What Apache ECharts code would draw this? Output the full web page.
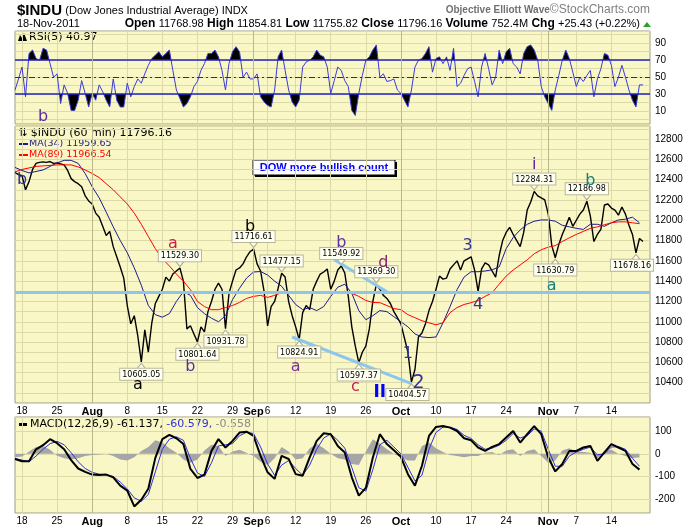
<!DOCTYPE html>
<html>
<head>
<meta charset="utf-8">
<script src="https://cdn.jsdelivr.net/npm/echarts@6/dist/echarts.min.js"></script>
<style>
html, body { margin: 0; padding: 0; background: #fff; }
#chart { width: 700px; height: 530px; }
</style>
</head>
<body>
<div id="chart"></div>
<script>
// trading days shown on the hourly chart
var tradingDays = ['Jul 15','Jul 18','Jul 19','Jul 20','Jul 21','Jul 22','Jul 25','Jul 26','Jul 27','Jul 28','Jul 29',
  'Aug 1','Aug 2','Aug 3','Aug 4','Aug 5','Aug 8','Aug 9','Aug 10','Aug 11','Aug 12','Aug 15','Aug 16','Aug 17','Aug 18','Aug 19',
  'Aug 22','Aug 23','Aug 24','Aug 25','Aug 26','Aug 29','Aug 30','Aug 31','Sep 1','Sep 2','Sep 6','Sep 7','Sep 8','Sep 9',
  'Sep 12','Sep 13','Sep 14','Sep 15','Sep 16','Sep 19','Sep 20','Sep 21','Sep 22','Sep 23','Sep 26','Sep 27','Sep 28','Sep 29','Sep 30',
  'Oct 3','Oct 4','Oct 5','Oct 6','Oct 7','Oct 10','Oct 11','Oct 12','Oct 13','Oct 14','Oct 17','Oct 18','Oct 19','Oct 20','Oct 21',
  'Oct 24','Oct 25','Oct 26','Oct 27','Oct 28','Oct 31','Nov 1','Nov 2','Nov 3','Nov 4','Nov 7','Nov 8','Nov 9','Nov 10','Nov 11',
  'Nov 14','Nov 15','Nov 16','Nov 17','Nov 18'];

var dayLabels = {'Jul 18':'18','Jul 25':'25','Aug 1':'Aug','Aug 8':'8','Aug 15':'15','Aug 22':'22','Aug 29':'29',
  'Sep 1':'Sep','Sep 6':'6','Sep 12':'12','Sep 19':'19','Sep 26':'26','Oct 3':'Oct','Oct 10':'10','Oct 17':'17',
  'Oct 24':'24','Nov 1':'Nov','Nov 7':'7','Nov 14':'14'};
var monthNames = ['Aug','Sep','Oct','Nov'];
var weekStarts = ['Jul 18','Jul 25','Aug 1','Aug 8','Aug 15','Aug 22','Aug 29','Sep 6','Sep 12','Sep 19','Sep 26',
  'Oct 3','Oct 10','Oct 17','Oct 24','Oct 31','Nov 7','Nov 14'];
var monthStarts = ['Aug 1','Sep 1','Oct 3','Nov 1'];

// $INDU, two readings per day (morning, afternoon)
var price = [
  12470,12450,12440,12300,12380,12500,12560,12570,12575,12570,
  12578,12560,12565,12555,12545,12490,12410,12380,12360,12330,
  12240,12190,12160,12070,12030,11940,11850,11890,11740,11640,
  11540,11430,11160,10980,11060,10860,10605,10920,10700,10990,
  11180,11250,11320,11440,11400,11470,11500,11529,11400,10930,
  10960,10880,10802,10950,10900,11100,11200,11320,11380,11320,
  10932,11280,11400,11510,11530,11570,11640,11690,11717,11570,
  11500,11300,10960,11150,11200,11330,11477,11440,11200,11060,
  10950,10825,11090,11160,11120,11320,11400,11470,11490,11520,
  11320,11400,11510,11550,11480,11250,10950,10760,10597,10700,
  10760,10930,11200,11369,11320,11260,11230,11180,11100,11040,
  10980,10840,10700,10405,10530,10850,10890,10980,11110,11200,
  11320,11450,11420,11430,11520,11560,11600,11510,11600,11620,
  11640,11510,11300,11520,11580,11560,11500,11440,11650,11800,
  11880,11930,11860,11800,11740,11880,12100,12180,12284,12240,
  12220,12200,12060,11750,11631,11760,11860,11940,12030,11940,
  12000,12060,12100,12187,12040,11790,11860,11910,12150,12160,
  12120,12100,12050,12130,12060,11950,11860,11678,11820,11790
];

// moving averages, one reading per day
var ma34 = [
  12520,12490,12466,12480,12495,12530,12564,12590,12590,12560,
  12460,12330,12220,12080,11935,11800,11680,11530,11360,11160,
  11070,11045,11080,11200,11296,11260,11140,11080,11035,11000,
  11060,11217,11330,11430,11490,11495,11460,11400,11350,11260,
  11170,11120,11140,11110,11150,11250,11340,11370,11280,11110,
  11020,11060,11110,11100,11050,11000,10950,10880,10850,10844,
  10850,10990,11149,11316,11440,11493,11493,11500,11512,11540,
  11720,11830,11905,11960,11990,12003,12003,11990,11950,11935,
  11920,11910,11960,11960,11940,11975,12003,12010,12030,11975
];
var ma89 = [
  12476,12500,12515,12530,12535,12540,12545,12545,12545,12525,
  12495,12460,12420,12360,12300,12230,12160,12070,11960,11840,
  11720,11620,11550,11470,11400,11316,11200,11150,11119,11119,
  11140,11160,11190,11230,11250,11260,11240,11260,11286,11295,
  11290,11286,11286,11286,11286,11286,11290,11300,11280,11250,
  11210,11190,11188,11160,11130,11119,11070,11040,11010,10990,
  10970,10990,11090,11140,11170,11188,11210,11250,11286,11370,
  11450,11510,11560,11610,11670,11709,11735,11750,11790,11827,
  11860,11890,11920,11935,11955,11975,11984,11984,11975,11966
];

// RSI(5), two readings per day
var rsi = [
  35,48,62,27,78,82,72,70,84,82,
  66,50,54,19,41,31,11,11,23,46,
  31,15,31,23,41,33,23,15,48,23,
  15,15,43,27,39,48,43,54,64,72,
  76,80,74,78,82,58,35,25,15,19,
  27,39,45,58,66,78,78,82,74,58,
  35,66,80,86,80,50,56,48,48,54,
  27,21,17,15,35,74,82,58,35,21,
  15,23,62,68,70,74,82,76,74,62,
  31,46,62,58,46,39,11,5,31,52,
  70,74,82,88,50,54,45,46,48,35,
  31,23,15,35,62,70,72,78,86,56,
  72,74,66,74,58,84,39,43,52,60,
  62,45,27,62,78,60,41,50,82,66,
  80,84,66,62,54,78,86,88,82,70,
  39,27,19,11,35,52,70,82,72,56,
  39,50,45,52,58,27,48,60,78,76,
  64,39,50,64,50,35,23,15,41,41
];

// MACD(12,26,9), one reading per day
var macdLine = [
  -23,-33,-33,20,38,65,47,20,-28,-65,
  -80,-92,-94,-92,-104,-141,-163,-233,-203,-155,
  -18,65,84,69,43,-67,-107,-92,13,65,
  28,57,94,98,79,-9,-82,-111,-9,-23,
  -90,-97,-16,57,91,87,35,6,-104,-185,
  -151,-16,87,43,16,-13,-90,-141,-53,79,
  119,123,116,101,69,60,28,13,31,43,
  72,101,50,87,123,87,-16,-78,-45,13,
  13,28,35,-31,6,43,28,13,-45,-70
];
var macdSignal = [
  -20,-28,-35,-10,20,45,55,40,5,-35,
  -65,-82,-90,-92,-100,-125,-155,-195,-210,-180,
  -80,20,65,75,60,-20,-85,-100,-40,35,
  40,45,80,95,90,30,-45,-95,-50,-30,
  -65,-95,-50,20,70,88,60,25,-60,-150,
  -165,-70,40,60,30,0,-60,-120,-95,20,
  95,118,118,108,82,68,40,20,25,38,
  60,90,70,80,110,100,20,-55,-55,-10,
  8,20,30,-5,0,30,32,20,-20,-55
];
var macdHist = [
  -15,-12,10,30,35,18,-8,-20,-25,-20,
  -10,-5,-3,0,-10,-25,-30,-15,12,30,
  60,50,25,5,-25,-40,-25,15,40,35,
  -10,10,18,5,-10,-35,-50,-20,30,10,
  -25,-20,25,45,25,0,-20,-25,-45,-50,
  10,65,45,20,0,-15,-30,-30,35,50,
  25,8,-5,-10,-15,-10,-10,5,8,-5,
  15,20,-10,12,20,-10,-40,-30,15,25,
  10,8,5,-20,10,18,0,-10,-20,-15
];

// price tags [slot, price] at swing highs and lows
var highTags = [[47, 11529.30], [68, 11716.61], [76, 11477.15], [93, 11549.92], [103, 11369.30], [148, 12284.31], [163, 12186.98]];
var lowTags = [[36, 10605.05], [52, 10801.64], [60, 10931.78], [81, 10824.91], [98, 10597.37], [113, 10404.57], [154, 11630.79], [177, 11678.16]];

// Elliott wave counts [slot, price, text]
var waves = [[2, 12397, 'b'], [45, 11768, 'a'], [67, 11935, 'b'], [35, 10382, 'a'], [50, 10559, 'b'], [80, 10559, 'a'],
  [93, 11778, 'b'], [105, 11581, 'd'], [97, 10362, 'c'], [104, 10303, 'II'], [112, 10686, '1'], [115, 10401, '2'],
  [129, 11748, '3'], [132, 11168, '4'], [148, 12544, 'i'], [164, 12387, 'b'], [153, 11355, 'a']];
var waveColors = ['#333399', '#C8204A', '#000000', '#000000', '#6030A0', '#80308F', '#6030A0', '#8B2070', '#C02050',
  '#0000FF', '#333399', '#333399', '#333399', '#333399', '#6020A0', '#108080', '#108080'];

// trend lines
var supportLevel = 11290;
var lowerChannel = [[79, 10850], [113, 10390]];
var upperChannel = [[91, 11610], [106, 11295]];

var BG = '#F9F7C6', GRID = '#DCDAA8', MONTH = '#B9B78C', BORDER = '#9E9E80';

var slots = [];
tradingDays.forEach(function (d) { slots.push(d + ' am'); slots.push(d + ' pm'); });
slots.push('pad a'); slots.push('pad b');
var tickText = slots.map(function (s) {
  var d = s.slice(0, -3);
  return (/ am$/.test(s) && dayLabels[d]) ? dayLabels[d] : '';
});
var weekLine = slots.map(function (s) { return / am$/.test(s) && weekStarts.indexOf(s.slice(0, -3)) >= 0; });

function perDay(arr) { return arr.map(function (v, d) { return [2 * d, v]; }); }
var monthLines = monthStarts.map(function (d) {
  return { xAxis: d + ' am', lineStyle: { color: MONTH, width: 1, type: 'solid' } };
});

var tagData = [];
highTags.forEach(function (t) {
  tagData.push({ coord: t, symbol: 'path://M0,0L10,0L5,6Z', symbolOffset: [0, -4],
    label: { position: 'top', formatter: t[1].toFixed(2) } });
});
lowTags.forEach(function (t, i) {
  tagData.push({ coord: t, symbol: 'path://M5,0L10,6L0,6Z', symbolOffset: [0, 4],
    label: { position: 'bottom', formatter: t[1].toFixed(2), offset: (t[0] > 110 && i !== 6) ? [-4, 0] : [0, 0] } });
});

var waveData = waves.map(function (w, i) {
  var size = w[2] === '2' ? 19 : (w[2] === 'II' ? 17 : 16);
  return { coord: [w[0], w[1]], label: { formatter: w[2], color: waveColors[i], fontSize: size,
    fontWeight: (w[2] === 'II' ? 'bold' : 'normal') } };
});

function gridOf(top, height) {
  return { left: 15, right: 50, top: top, height: height, show: true, backgroundColor: BG,
    borderColor: BORDER, borderWidth: 1, containLabel: false, outerBoundsMode: 'none' };
}
function xAxisOf(g) {
  return {
    type: 'category', gridIndex: g, data: slots, boundaryGap: false,
    axisLine: { show: false }, axisTick: { show: false },
    axisLabel: {
      show: g > 0, margin: 3, fontSize: 10, color: '#000', fontFamily: 'Liberation Sans',
      interval: function (i) { return tickText[i] !== ''; },
      formatter: function (v, i) {
        var t = tickText[i];
        return monthNames.indexOf(t) >= 0 ? '{m|' + t + '}' : t;
      },
      rich: { m: { fontWeight: 'bold', fontSize: 11, fontFamily: 'Liberation Sans' } }
    },
    splitLine: { show: true, interval: function (i) { return weekLine[i]; }, lineStyle: { color: GRID, width: 1 } }
  };
}
function yAxisOf(g, extra) {
  var ax = { type: 'value', gridIndex: g, position: 'right', scale: true,
    axisLine: { show: false }, axisTick: { show: false },
    splitLine: { show: true, lineStyle: { color: GRID, width: 1 } } };
  for (var k in extra) ax[k] = extra[k];
  return ax;
}
var yLabel = { margin: 5, fontSize: 10, color: '#000', fontFamily: 'Liberation Sans' };
function lab(fn) { var o = {}; for (var k in yLabel) o[k] = yLabel[k]; o.formatter = fn; return o; }

var chart = echarts.init(document.getElementById('chart'));

var option = {
  animation: false,
  backgroundColor: '#ffffff',
  textStyle: { fontFamily: 'Liberation Sans, DejaVu Sans, sans-serif' },
  grid: [gridOf(31, 93), gridOf(126, 277), gridOf(417, 96)],
  xAxis: [xAxisOf(0), xAxisOf(1), xAxisOf(2)],
  yAxis: [
    yAxisOf(0, { min: -5, max: 104.4, splitNumber: 11,
      axisLabel: lab(function (v) { return [10, 30, 50, 70, 90].indexOf(v) >= 0 ? v : ''; }) }),
    yAxisOf(1, { min: 10200, max: 12928, interval: 100,
      axisLabel: lab(function (v) { return (v % 200 === 0 && v >= 10400 && v <= 12800) ? v : ''; }) }),
    yAxisOf(2, { min: -262, max: 163, splitNumber: 4,
      axisLabel: lab(function (v) { return (v % 100 === 0) ? v : ''; }) })
  ],
  visualMap: [{
    type: 'piecewise', show: false, seriesIndex: 0, dimension: 1,
    pieces: [{ lt: 30, color: '#000000' }, { gte: 30, lte: 70, color: 'rgba(0,0,0,0)' }, { gt: 70, color: '#000000' }]
  }],
  series: [
    { type: 'line', xAxisIndex: 0, yAxisIndex: 0, data: rsi, symbol: 'none', silent: true,
      lineStyle: { width: 0 }, areaStyle: { origin: 70, opacity: 1 }, z: 2 },
    { type: 'line', xAxisIndex: 0, yAxisIndex: 0, data: rsi, symbol: 'none', silent: true,
      lineStyle: { color: '#3B3BD6', width: 1 }, z: 3,
      markLine: { silent: true, symbol: 'none', label: { show: false }, animation: false,
        data: [
          { yAxis: 70, lineStyle: { color: '#2222C4', width: 1.5, type: 'solid' } },
          { yAxis: 30, lineStyle: { color: '#2222C4', width: 1.5, type: 'solid' } },
          { yAxis: 50, lineStyle: { color: '#2222C4', width: 1, type: [6, 3, 2, 3] } }
        ].concat(monthLines) },
      markPoint: { symbol: 'circle', symbolSize: 1, itemStyle: { color: 'rgba(0,0,0,0)' }, silent: true,
        label: { show: true, position: 'inside', fontFamily: 'DejaVu Sans', fontSize: 16 },
        data: [{ coord: [8, 3], label: { formatter: 'b', color: '#5B2C9B' } }] } },
    { type: 'line', xAxisIndex: 1, yAxisIndex: 1, data: price, symbol: 'none', silent: true,
      lineStyle: { color: '#000000', width: 1.4 }, z: 3,
      markLine: { silent: true, symbol: 'none', label: { show: false }, animation: false,
        lineStyle: { color: '#8CC6EE', width: 3, type: 'solid' },
        data: monthLines.concat([
          { yAxis: supportLevel },
          [{ coord: lowerChannel[0] }, { coord: lowerChannel[1] }],
          [{ coord: upperChannel[0] }, { coord: upperChannel[1] }]
        ]) },
      markPoint: { silent: true, symbolSize: [8, 5],
        itemStyle: { color: '#FFFFEE', borderColor: '#B0B090', borderWidth: 1 },
        label: { show: true, distance: 0, color: '#000', fontFamily: 'DejaVu Sans', fontSize: 8,
          backgroundColor: '#FFFFF2', borderColor: '#B8B898', borderWidth: 1, padding: [2, 2, 1, 2] },
        data: tagData } },
    { type: 'line', xAxisIndex: 1, yAxisIndex: 1, data: perDay(ma34), symbol: 'none', silent: true,
      lineStyle: { color: '#1C1C8C', width: 1 }, z: 4,
      markPoint: { symbol: 'circle', symbolSize: 1, itemStyle: { color: 'rgba(0,0,0,0)' }, silent: true,
        label: { show: true, position: 'inside', fontFamily: 'DejaVu Sans' }, data: waveData } },
    { type: 'line', xAxisIndex: 1, yAxisIndex: 1, data: perDay(ma89), symbol: 'none', silent: true,
      lineStyle: { color: '#FF0000', width: 1 }, z: 4 },
    { type: 'line', xAxisIndex: 2, yAxisIndex: 2, data: perDay(macdHist), symbol: 'none', silent: true,
      lineStyle: { width: 0 }, areaStyle: { color: '#A6A6A6', opacity: 1 }, z: 2,
      markLine: { silent: true, symbol: 'none', label: { show: false }, animation: false, data: monthLines } },
    { type: 'line', xAxisIndex: 2, yAxisIndex: 2, data: perDay(macdSignal), symbol: 'none', silent: true,
      lineStyle: { color: '#2F2FE0', width: 1 }, z: 3 },
    { type: 'line', xAxisIndex: 2, yAxisIndex: 2, data: perDay(macdLine), symbol: 'none', silent: true,
      lineStyle: { color: '#000000', width: 2 }, z: 4 }
  ],
  graphic: [
    { type: 'text', x: 17, y: 11, style: { text: '{a|$INDU} {b|(Dow Jones Industrial Average) INDX}', verticalAlign: 'middle',
      rich: { a: { fontSize: 15, fontWeight: 'bold', fontFamily: 'Liberation Sans', fill: '#000' },
              b: { fontSize: 11, fontFamily: 'Liberation Sans', fill: '#000' } } } },
    { type: 'text', x: 650, y: 10, style: { text: '{a|Objective Elliott Wave}{b|©StockCharts.com}', align: 'right', verticalAlign: 'middle',
      rich: { a: { fontSize: 10, fontWeight: 'bold', fontFamily: 'Liberation Sans', fill: '#707070' },
              b: { fontSize: 12, fontFamily: 'Liberation Sans', fill: '#808080' } } } },
    { type: 'text', x: 17, y: 24, style: { text: '18-Nov-2011', verticalAlign: 'middle', fontSize: 11, fontFamily: 'Liberation Sans', fill: '#000' } },
    { type: 'text', x: 640, y: 24, style: {
      text: '{k|Open} {v|11768.98} {k|High} {v|11854.81} {k|Low} {v|11755.82} {k|Close} {v|11796.16} {k|Volume} {v|752.4M} {k|Chg} {v|+25.43 (+0.22%)}',
      align: 'right', verticalAlign: 'middle',
      rich: { k: { fontSize: 12, fontWeight: 'bold', fontFamily: 'Liberation Sans', fill: '#000' },
              v: { fontSize: 11, fontFamily: 'Liberation Sans', fill: '#000' } } } },
    { type: 'polygon', shape: { points: [[643, 27], [651, 27], [647, 22]] }, style: { fill: '#2DA02D' } },
    { type: 'polygon', shape: { points: [[18, 41], [20, 35], [22, 38], [24, 33], [27, 41]] }, style: { fill: '#000' } },
    { type: 'text', x: 29, y: 37, style: { text: 'RSI(5) 40.97', verticalAlign: 'middle', fontSize: 11, fontFamily: 'DejaVu Sans', fill: '#000' } },
    { type: 'text', x: 18, y: 133, style: { text: '⇅ $INDU (60 min) 11796.16', verticalAlign: 'middle', fontSize: 11, fontFamily: 'DejaVu Sans', fill: '#000' } },
    { type: 'rect', shape: { x: 19, y: 143, width: 9, height: 2 }, style: { fill: '#1C1C8C' } },
    { type: 'text', x: 29, y: 144, style: { text: 'MA(34) 11959.65', verticalAlign: 'middle', fontSize: 9.5, fontFamily: 'DejaVu Sans', fill: '#1C1C8C' } },
    { type: 'rect', shape: { x: 19, y: 154, width: 9, height: 2 }, style: { fill: '#FF0000' } },
    { type: 'text', x: 29, y: 155, style: { text: 'MA(89) 11966.54', verticalAlign: 'middle', fontSize: 9.5, fontFamily: 'DejaVu Sans', fill: '#FF0000' } },
    { type: 'rect', shape: { x: 255, y: 162, width: 142, height: 15 }, style: { fill: '#000' } },
    { type: 'rect', shape: { x: 253, y: 160, width: 142, height: 15 }, style: { fill: '#fff', stroke: '#000', lineWidth: 1 } },
    { type: 'text', x: 324, y: 168, style: { text: 'DOW more bullish count', align: 'center', verticalAlign: 'middle',
      fontSize: 11, fontWeight: 'bold', fontFamily: 'Liberation Sans', fill: '#0000FF' } },
    { type: 'rect', shape: { x: 19, y: 423, width: 8, height: 3 }, style: { fill: '#000' } },
    { type: 'text', x: 30, y: 424, style: { text: '{k|MACD(12,26,9) -61.137,} {s|-60.579,} {h|-0.558}', verticalAlign: 'middle',
      rich: { k: { fontSize: 11, fontFamily: 'DejaVu Sans', fill: '#000' },
              s: { fontSize: 11, fontFamily: 'DejaVu Sans', fill: '#2F2FE0' },
              h: { fontSize: 11, fontFamily: 'DejaVu Sans', fill: '#8C8C8C' } } } }
  ]
};

chart.setOption(option);
</script>
</body>
</html>
